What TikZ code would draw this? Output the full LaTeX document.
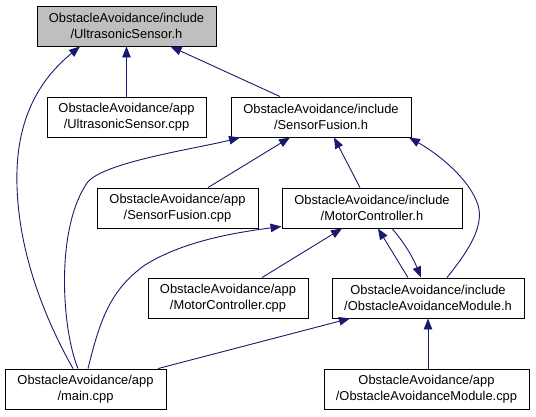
\documentclass[tikz,border=0pt]{standalone}
\usepackage{fontspec}
\setmainfont{Liberation Sans}
\usetikzlibrary{arrows.meta}
\definecolor{edgeblue}{HTML}{191970}
\definecolor{topgray}{HTML}{BFBFBF}
\begin{document}
\begin{tikzpicture}[x=1pt,y=-1pt,
  box/.style={draw=black, line width=0.9pt, inner sep=0pt, align=center,
    font=\fontsize{12.9}{15.5}\selectfont, minimum height=40pt},
  edge/.style={draw=edgeblue, line width=0.9pt, -{Triangle[length=11pt,width=8.5pt]}}]
\useasboundingbox (0,0) rectangle (536,416);

\node[box, fill=topgray, minimum width=179pt] (ush) at (126.5,26) {ObstacleAvoidance/include\\/UltrasonicSensor.h};
\node[box, minimum width=159pt] (usc) at (126.5,117) {ObstacleAvoidance/app\\/UltrasonicSensor.cpp};
\node[box, minimum width=180pt] (sfh) at (321,117) {ObstacleAvoidance/include\\/SensorFusion.h};
\node[box, minimum width=161pt] (sfc) at (177.5,208) {ObstacleAvoidance/app\\/SensorFusion.cpp};
\node[box, minimum width=180pt] (mch) at (372,208) {ObstacleAvoidance/include\\/MotorController.h};
\node[box, minimum width=160pt] (mcc) at (228,298) {ObstacleAvoidance/app\\/MotorController.cpp};
\node[box, minimum width=192pt] (oamh) at (428,298) {ObstacleAvoidance/include\\/ObstacleAvoidanceModule.h};
\node[box, minimum width=205pt] (oamc) at (426.5,389) {ObstacleAvoidance/app\\/ObstacleAvoidanceModule.cpp};
\node[box, minimum width=161pt] (main) at (85.5,389) {ObstacleAvoidance/app\\/main.cpp};

% 1
\draw[edge] (usc.north) -- (ush.south);
% 2
\draw[edge] ([xshift=-41pt]sfh.north) -- ([xshift=44pt]ush.south);
% 3
\draw[edge] ([xshift=-12.5pt]main.north) .. controls (40,310) and (15,240) .. (17,170)
  .. controls (19,110) and (45,75) .. ([xshift=-46.5pt]ush.south);
% 4
\draw[edge] ([xshift=30.5pt]sfc.north) -- ([xshift=-31pt]sfh.south);
% 5
\draw[edge] ([xshift=-7.5pt]main.north) .. controls (62,330) and (55,230) .. (87,183)
  .. controls (102,162) and (200,148) .. ([xshift=-81pt]sfh.south);
% 6
\draw[edge] ([xshift=-12pt]mch.north) -- ([xshift=13pt]sfh.south);
% 7
\draw[edge] ([xshift=19pt]oamh.north) .. controls (465,255) and (485,228) .. (478,205)
  .. controls (470,180) and (440,155) .. ([xshift=88pt]sfh.south);
% 8
\draw[edge] ([xshift=2.5pt]main.north) .. controls (100,320) and (110,290) .. (145,265)
  .. controls (185,240) and (240,232) .. ([yshift=2pt]mch.south west);
% 9
\draw[edge] ([xshift=34pt]mcc.north) -- ([xshift=-30pt]mch.south);
% 10
\draw[edge] ([xshift=-20pt]oamh.north) -- ([xshift=6pt]mch.south);
% 11
\draw[edge] ([xshift=20pt]mch.south) .. controls (402,240) and (412,255) .. ([xshift=-7pt]oamh.north);
% 12
\draw[edge] ([xshift=72.5pt]main.north) -- ([xshift=-78pt]oamh.south);
% 13
\draw[edge] (oamh.south |- oamc.north) -- (oamh.south);
\end{tikzpicture}
\end{document}
